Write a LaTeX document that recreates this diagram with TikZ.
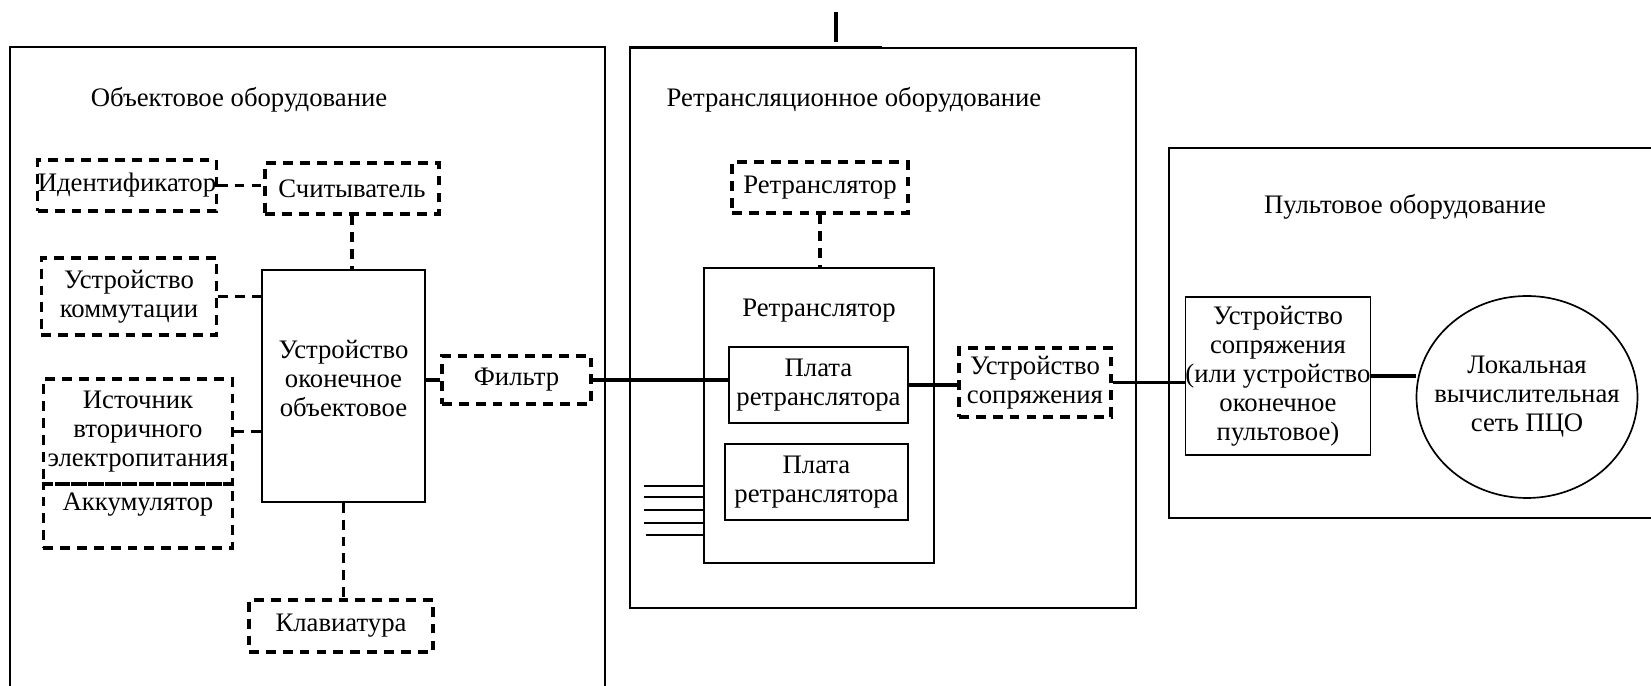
\documentclass[tikz,border=0pt]{standalone}
\usepackage{fontspec}
\setmainfont{Liberation Serif}
\usetikzlibrary{shapes.geometric}
\tikzset{
scheme/.style={x=0.0125cm,y=-0.0125cm,font=\fontsize{9.5}{10.3}\selectfont},
boxsize/.style 2 args={minimum width=#1*0.0125cm,minimum height=#2*0.0125cm},
sbox/.style={draw,line width=0.6pt,inner sep=0pt,align=center},
dbox/.style={draw,line width=1.1pt,dash pattern=on 3.5pt off 2.5pt,inner sep=0pt,align=center},
frame/.style={draw,line width=0.5pt},
link/.style={line width=1.1pt},
dlink/.style={line width=1.1pt,dash pattern=on 3.5pt off 2.5pt},
}
\begin{document}
\begin{tikzpicture}[scheme]
\useasboundingbox (0,0) rectangle (1651,686);
% frames
\draw[frame] (10,686) -- (10,47) -- (605,47) -- (605,686);
\draw[frame] (630,48) rectangle (1136,608);
\draw[frame] (1651,148) -- (1169,148) -- (1169,518) -- (1651,518);
\draw[link] (836,12) -- (836,42);
\draw[line width=0.9pt] (630,102) -- (630,47) -- (882,47);
\draw[line width=0.9pt] (1136,223) -- (1136,283);
\draw[line width=0.9pt] (630,495) -- (630,552);
\node (objtitle) at (239,100) {Объектовое оборудование};
\node (reltitle) at (854,100) {Ретрансляционное оборудование};
\node (contitle) at (1405,207) {Пультовое оборудование};

% object side
\node[dbox,boxsize={176}{51}] (ident) at (127,185.5) {Идентификатор};
\node[dbox,boxsize={174}{51}] (reader) at (352,188.5) {Считыватель};
\node[dbox,boxsize={175.5}{77}] (switch) at (129,296.5) {Устройство\\коммутации};
\node[sbox,boxsize={163}{232},label={[align=center,yshift=0.09cm]center:Устройство\\оконечное\\объектовое}] (term) at (343.5,386) {};
\node[dbox,boxsize={189.5}{105}] (power) at (138,431.5) {Источник\\вторичного\\электропитания};
\node[dbox,boxsize={189.5}{64},label={[anchor=north,inner sep=0pt,yshift=-0.125cm]north:Аккумулятор}] (battery) at (138,516) {};
\node[dbox,boxsize={184}{52}] (keys) at (341,626) {Клавиатура};
\node[dbox,boxsize={149}{48}] (filter) at (516.5,380) {Фильтр};

% relay side
\node[dbox,boxsize={176}{51}] (relay) at (820,187.5) {Ретранслятор};
\node[sbox,boxsize={230}{295},label={[anchor=north,inner sep=0pt,yshift=-0.39cm]north:Ретранслятор}] (station) at (819,415.5) {};
\node[sbox,boxsize={179}{76}] (board a) at (818.5,385) {Плата\\ретранслятора};
\node[sbox,boxsize={183}{76}] (board b) at (816.5,482) {Плата\\ретранслятора};
\node[dbox,boxsize={152}{69}] (iface) at (1035,382.5) {Устройство\\сопряжения};

% console side
\node[sbox,boxsize={180}{158}] (console) at (1278,376) {Устройство\\сопряжения\\(или устройство\\оконечное\\пультовое)};
\node[ellipse,draw,line width=0.6pt,boxsize={221}{202},inner sep=0pt,label={[align=center]center:Локальная\\вычислительная\\сеть ПЦО}] (lan) at (1527,397) {};

% links
\path[dlink] (ident.east) edge (ident.east -| reader.west)
  (reader.south) edge (reader.south |- term.north)
  (switch.east) edge (switch.east -| term.west)
  (power.east) edge (power.east -| term.west)
  (term.south) edge (term.south |- keys.north)
  (relay.south) edge (relay.south |- station.north);
\path[link] (filter.west -| term.east) edge (filter.west)
  (filter.east) edge (filter.east -| board a.west)
  (board a.east) edge (board a.east -| iface.west)
  (iface.east) edge (iface.east -| console.west)
  (console.east) edge (console.east -| lan.west);
\foreach \y in {486,497,510,523}
  \draw[line width=0.6pt] (644,\y) -- (station.west |- 0,\y);
\draw[line width=1pt] (646,535) -- (station.west |- 0,535);
\end{tikzpicture}
\end{document}
